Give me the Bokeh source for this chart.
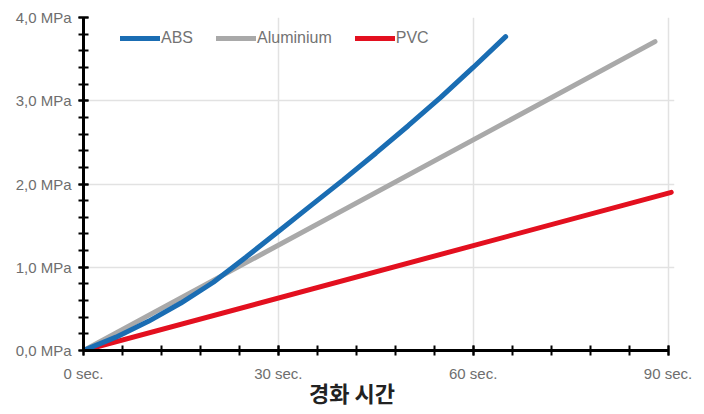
import numpy as np
from bokeh.plotting import figure
from bokeh.models import FixedTicker, Range1d, Legend, LegendItem, Div
from bokeh.layouts import column
from bokeh.embed import file_html
from bokeh.resources import INLINE

# ---- data ----
abs_sec = [0, 5, 10, 15, 20, 25, 30, 35, 40, 45, 50, 55, 60, 65]
abs_mpa = [0, 0.16, 0.35, 0.57, 0.82, 1.12, 1.43, 1.74, 2.05, 2.37, 2.70, 3.04, 3.40, 3.77]
alu_sec = [0, 88]
alu_mpa = [0, 3.71]
pvc_sec = [0, 90.5]
pvc_mpa = [0, 1.90]

x_ticks = [0, 30, 60, 90]
x_labels = ["0 sec.", "30 sec.", "60 sec.", "90 sec."]
y_ticks = [0, 1, 2, 3, 4]
y_labels = ["0,0 MPa", "1,0 MPa", "2,0 MPa", "3,0 MPa", "4,0 MPa"]
series_names = ["ABS", "Aluminium", "PVC"]
colors = ["#1a6db3", "#a9a9a9", "#e3101f"]
x_title = "경화 시간"

fig = figure(width=704, height=384, output_backend="svg", toolbar_location=None,
             x_range=Range1d(0, 91), y_range=Range1d(0, 4.0))
fig.min_border_left = 83
fig.min_border_right = 30
fig.min_border_top = 17
fig.min_border_bottom = 34
fig.outline_line_color = None
fig.background_fill_color = "white"

r_abs = fig.line(abs_sec, abs_mpa, line_color=colors[0], line_width=5, line_cap="round")
r_alu = fig.line(alu_sec, alu_mpa, line_color=colors[1], line_width=5, line_cap="round")
r_pvc = fig.line(pvc_sec, pvc_mpa, line_color=colors[2], line_width=5, line_cap="round")
# draw ABS over aluminium
fig.renderers = [r_pvc, r_alu, r_abs]

# axes
fig.xaxis.ticker = FixedTicker(ticks=x_ticks, minor_ticks=list(np.arange(0, 90.1, 6)))
fig.yaxis.ticker = FixedTicker(ticks=y_ticks, minor_ticks=list(np.round(np.arange(0, 4.01, 0.2), 2)))
fig.xaxis.major_label_overrides = dict(zip(x_ticks, x_labels))
fig.yaxis.major_label_overrides = dict(zip(y_ticks, y_labels))
fig.xaxis.bounds = (0, 90)

for ax in (fig.xaxis, fig.yaxis):
    ax.axis_line_color = "black"
    ax.axis_line_width = 3
    ax.major_tick_line_color = "black"
    ax.major_tick_line_width = 2
    ax.major_tick_in = 5
    ax.major_tick_out = 5
    ax.minor_tick_line_color = "black"
    ax.minor_tick_line_width = 2
    ax.minor_tick_in = 5
    ax.minor_tick_out = 5
    ax.major_label_text_font = "Liberation Sans"
    ax.major_label_text_font_size = "15px"
    ax.major_label_text_color = "#6e6e6e"
fig.xaxis.major_label_standoff = 9
fig.yaxis.major_label_standoff = 7

fig.xgrid.ticker = FixedTicker(ticks=[30, 60, 90])
fig.ygrid.ticker = FixedTicker(ticks=[1, 2, 3, 4])
fig.grid.grid_line_color = "#e2e2e2"
fig.grid.grid_line_width = 1.5

legend = Legend(items=[LegendItem(label=series_names[0], renderers=[r_abs]),
                       LegendItem(label=series_names[1], renderers=[r_alu]),
                       LegendItem(label=series_names[2], renderers=[r_pvc])],
                orientation="horizontal", location=(37, 302))
legend.glyph_width = 40
legend.glyph_height = 20
legend.label_standoff = 1
legend.spacing = 23
legend.padding = 0
legend.margin = 0
legend.border_line_color = None
legend.background_fill_alpha = 0
legend.label_text_font = "Liberation Sans"
legend.label_text_font_size = "16px"
legend.label_text_color = "#737373"
legend.label_height = 20
fig.add_layout(legend)

title = Div(text=x_title, width=704, height=30, margin=0,
            styles={"font-family": "'Noto Sans CJK KR'", "font-weight": "bold",
                    "font-size": "22px", "color": "#222222", "text-align": "center",
                    "line-height": "16px", "width": "704px"})

p = column(fig, title, spacing=0)

open("out.html", "w").write(file_html(p, INLINE))
